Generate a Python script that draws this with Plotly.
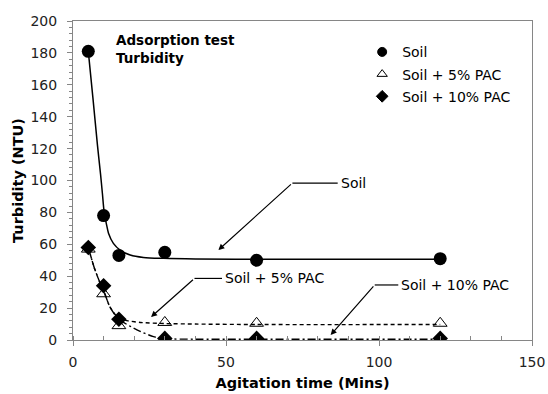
import plotly.graph_objects as go

# ---- measured points ----
time_min = [5, 10, 15, 30, 60, 120]
soil = [181, 78, 53, 55, 50, 51]
soil_pac5 = [57, 29, 9, 11, 10.5, 10.5]
soil_pac10 = [58, 34, 13, 1, 1, 1]

# ---- fitted trend curves ----
soil_fit_x = [5, 6.5, 8, 9, 9.6, 10.2, 11, 11.6, 13.2, 15.4, 18.7, 23, 29.6, 40, 60, 120]
soil_fit_y = [181, 152, 122, 104, 92, 80, 72, 67, 60.6, 56.4, 53.3, 51.8, 51.2, 50.8, 50.6, 50.6]

pac5_fit_x = [5, 7, 9, 10, 12, 14, 16, 18, 22, 30, 40, 60, 120]
pac5_fit_y = [58, 45, 35, 31, 21, 15.5, 13, 12, 11, 10.3, 10, 9.7, 9.7]

pac10_fit_x = [5, 7, 9, 10, 12, 14.8, 16.5, 20.9, 26.3, 30, 40, 60, 120]
pac10_fit_y = [58, 45, 35, 31, 21, 13, 11, 6.3, 2.1, 0.8, 0.5, 0.5, 0.5]

FONT = "DejaVu Sans"

fig = go.Figure()

# trend lines
fig.add_trace(go.Scatter(x=soil_fit_x, y=soil_fit_y, mode="lines", showlegend=False,
                         line=dict(color="black", width=1.5, shape="spline", smoothing=0.8),
                         hoverinfo="skip"))
fig.add_trace(go.Scatter(x=pac5_fit_x, y=pac5_fit_y, mode="lines", showlegend=False,
                         line=dict(color="black", width=1.4, dash="4px,3px", shape="spline", smoothing=0.6),
                         hoverinfo="skip"))
fig.add_trace(go.Scatter(x=pac10_fit_x, y=pac10_fit_y, mode="lines", showlegend=False,
                         line=dict(color="black", width=1.4, dash="8px,3px,2px,3px", shape="spline", smoothing=0.6),
                         hoverinfo="skip"))

# data markers
fig.add_trace(go.Scatter(x=time_min, y=soil, mode="markers", name="Soil", showlegend=False,
                         marker=dict(symbol="circle", size=13, color="black")))
fig.add_trace(go.Scatter(x=time_min, y=soil_pac5, mode="markers", name="Soil + 5% PAC", showlegend=False,
                         marker=dict(symbol="triangle-up-open", size=12, color="black", line=dict(width=1))))
fig.add_trace(go.Scatter(x=time_min, y=soil_pac10, mode="markers", name="Soil + 10% PAC", showlegend=False,
                         marker=dict(symbol="diamond", size=12, color="black")))

# legend entries (small symbols as in the original legend)
for nm, sym, grp in [("Soil", "circle", "a"), ("Soil + 5% PAC", "triangle-up-open", "b"),
                     ("Soil + 10% PAC", "diamond", "c")]:
    fig.add_trace(go.Scatter(x=[None], y=[None], mode="markers", name=nm, legendgroup=grp,
                             marker=dict(symbol=sym, size=9, color="black", line=dict(width=1, color="black"))))

# arrows with elbow leaders
leaders = [
    # head (x,y), elbow (x,y), text start x, label
    ((47.5, 56.4), (71.7, 98.4), 86.5, "Soil"),
    ((25.5, 14.4), (39.7, 38.6), 48.7, "Soil + 5% PAC"),
    ((84.2, 3.1), (98.6, 34.5), 106.3, "Soil + 10% PAC"),
]
for (hx, hy), (ex, ey), tx, label in leaders:
    fig.add_annotation(x=hx, y=hy, ax=ex, ay=ey, xref="x", yref="y", axref="x", ayref="y",
                       text="", showarrow=True, arrowhead=2, arrowsize=1, arrowwidth=1.2,
                       arrowcolor="black")
    fig.add_shape(type="line", x0=ex, y0=ey, x1=tx, y1=ey, xref="x", yref="y",
                  line=dict(color="black", width=1.2))
    fig.add_annotation(x=tx, y=ey, xref="x", yref="y", text=label, showarrow=False,
                       xanchor="left", yanchor="middle", xshift=1,
                       font=dict(family=FONT, size=14, color="black"))

fig.add_annotation(x=13.5, y=0.911, xref="x", yref="paper",
                   text="<b>Adsorption test<br>Turbidity</b>", showarrow=False,
                   xanchor="left", yanchor="middle", align="left",
                   font=dict(family=FONT, size=13.5, color="black"))

fig.update_layout(
    width=548, height=394,
    margin=dict(l=73, r=16, t=21, b=54),
    paper_bgcolor="white", plot_bgcolor="white",
    font=dict(family=FONT, size=14, color="black"),
    legend=dict(x=0.63, y=0.952, xanchor="left", yanchor="top",
                bgcolor="rgba(0,0,0,0)", tracegroupgap=1, itemwidth=30,
                font=dict(family=FONT, size=14, color="black")),
    xaxis=dict(range=[0, 150], dtick=50, tick0=0, showgrid=False, zeroline=False,
               automargin=False,
               showline=True, linecolor="#868686", linewidth=1, mirror=True,
               ticks="outside", ticklen=5, tickcolor="#868686", ticklabelstandoff=4,
               minor=dict(dtick=10, ticks="inside", ticklen=4, tickcolor="#868686"),
               tickfont=dict(family=FONT, size=14, color="#222"),
               title=dict(text="<b>Agitation time (Mins)</b>", standoff=9,
                          font=dict(family=FONT, size=14.5, color="black"))),
    yaxis=dict(range=[0, 200], dtick=20, tick0=0, showgrid=False, zeroline=False,
               automargin=False,
               showline=True, linecolor="#868686", linewidth=1, mirror=True,
               ticks="outside", ticklen=5, tickcolor="#868686", ticklabelstandoff=7,
               minor=dict(dtick=4, ticks="outside", ticklen=3, tickcolor="#868686"),
               tickfont=dict(family=FONT, size=14, color="#222"),
               title=dict(text="<b>Turbidity (NTU)</b>", standoff=3,
                          font=dict(family=FONT, size=14.5, color="black"))),
)

fig.write_html("out.html", post_script="document.body.style.margin='0';",
               config={"displayModeBar": False})
